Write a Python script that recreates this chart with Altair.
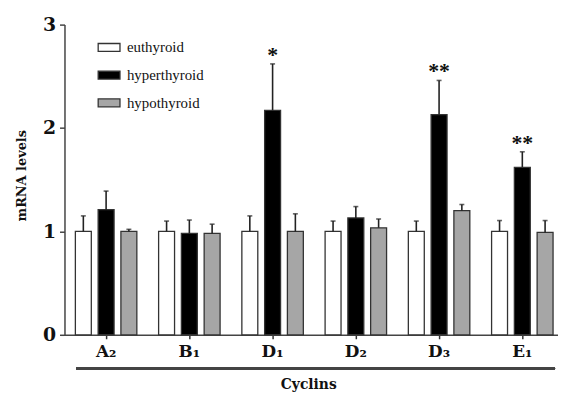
import altair as alt
import pandas as pd

cyclins = ["A₂", "B₁", "D₁", "D₂", "D₃", "E₁"]
groups = ["euthyroid", "hyperthyroid", "hypothyroid"]
eu_vals = [1.00, 1.00, 1.00, 1.00, 1.00, 1.00]
eu_err = [0.15, 0.10, 0.15, 0.10, 0.10, 0.105]
hyper_vals = [1.21, 0.98, 2.17, 1.13, 2.13, 1.62]
hyper_err = [0.18, 0.13, 0.45, 0.11, 0.33, 0.15]
hypo_vals = [1.00, 0.98, 1.00, 1.035, 1.20, 0.99]
hypo_err = [0.02, 0.09, 0.17, 0.085, 0.06, 0.115]
hyper_sig = ["", "", "*", "", "**", "**"]

rows = []
for i, c in enumerate(cyclins):
    for g, v, e, s in [
        ("euthyroid", eu_vals[i], eu_err[i], ""),
        ("hyperthyroid", hyper_vals[i], hyper_err[i], hyper_sig[i]),
        ("hypothyroid", hypo_vals[i], hypo_err[i], ""),
    ]:
        rows.append({"cyclin": c, "group": g, "value": v, "top": v + e, "sig": s})
df = pd.DataFrame(rows)

serif = "Liberation Serif"
bold_serif = "DejaVu Serif"

x_enc = alt.X(
    "cyclin:N",
    sort=cyclins,
    scale=alt.Scale(paddingInner=0, paddingOuter=0, range=[0, 504]),
    axis=alt.Axis(
        title="Cyclins",
        labelAngle=0,
        labelFont=bold_serif,
        labelFontWeight="bold",
        labelFontSize=17,
        labelColor="#111",
        labelPadding=5,
        tickSize=4,
        tickColor="#333",
        tickWidth=1.5,
        domainColor="#444",
        domainWidth=1.5,
        titleFont=bold_serif,
        titleFontWeight="bold",
        titleFontSize=14,
        titleColor="#111",
        titleX=246,
        titleY=50,
        titleBaseline="middle",
        titleAlign="center",
    ),
)
xoff = alt.XOffset(
    "group:N",
    sort=groups,
    scale=alt.Scale(domain=groups, paddingInner=0.30, paddingOuter=0.478),
)
y_scale = alt.Scale(domain=[0, 3])
y_axis = alt.Axis(
    title="mRNA levels",
    values=[0, 1, 2, 3],
    format="d",
    grid=False,
    labelFont=bold_serif,
    labelFontWeight="bold",
    labelFontSize=19,
    labelColor="#111",
    labelPadding=4,
    tickSize=5,
    tickColor="#444",
    tickWidth=1.5,
    domainColor="#444",
    domainWidth=1.5,
    titleFont=bold_serif,
    titleFontWeight="bold",
    titleFontSize=13,
    titleColor="#111",
    titleAngle=-90,
    titleX=-43,
    titleY=152,
    titleBaseline="middle",
    titleAlign="center",
)

base = alt.Chart(df)

bars = base.mark_bar(stroke="#333", strokeWidth=1.3).encode(
    x=x_enc,
    xOffset=xoff,
    y=alt.Y("value:Q", scale=y_scale, axis=y_axis),
    fill=alt.Fill(
        "group:N",
        sort=groups,
        scale=alt.Scale(domain=groups, range=["#ffffff", "#000000", "#a6a6a6"]),
        legend=alt.Legend(
            title=None,
            orient="none",
            legendX=33,
            legendY=11,
            symbolType="M-1,-0.36L1,-0.36L1,0.36L-1,0.36Z",
            symbolSize=484,
            symbolStrokeColor="#333",
            symbolStrokeWidth=1.3,
            labelFont=serif,
            labelFontSize=15,
            labelColor="#111",
            labelOffset=6,
            rowPadding=8,
            padding=0,
        ),
    ),
)

err = base.mark_rule(color="#222", strokeWidth=1.6).encode(
    x=alt.X("cyclin:N", sort=cyclins),
    xOffset=xoff,
    y="value:Q",
    y2="top:Q",
)

caps = base.mark_tick(color="#222", size=5, thickness=1.6, orient="horizontal").encode(
    x=alt.X("cyclin:N", sort=cyclins),
    xOffset=xoff,
    y="top:Q",
)

stars = base.mark_text(
    font=serif, fontSize=22, fontWeight="bold", color="#111", baseline="middle", dy=-9
).encode(
    x=alt.X("cyclin:N", sort=cyclins),
    xOffset=xoff,
    y="top:Q",
    text="sig:N",
)

line = base.mark_rule(color="#444", strokeWidth=1.6).encode(
    x=alt.value(12), x2=alt.value(495), y=alt.value(347)
)

chart = (
    alt.layer(bars, err, caps, stars, line)
    .properties(
        width=498,
        height=313,
        autosize=alt.AutoSizeParams(type="none"),
        padding={"left": 57, "top": 15, "right": 0, "bottom": 60},
        background="white",
    )
    .configure_view(stroke=None)
)

chart.save("out.html", embed_options={"renderer": "svg", "actions": False})
